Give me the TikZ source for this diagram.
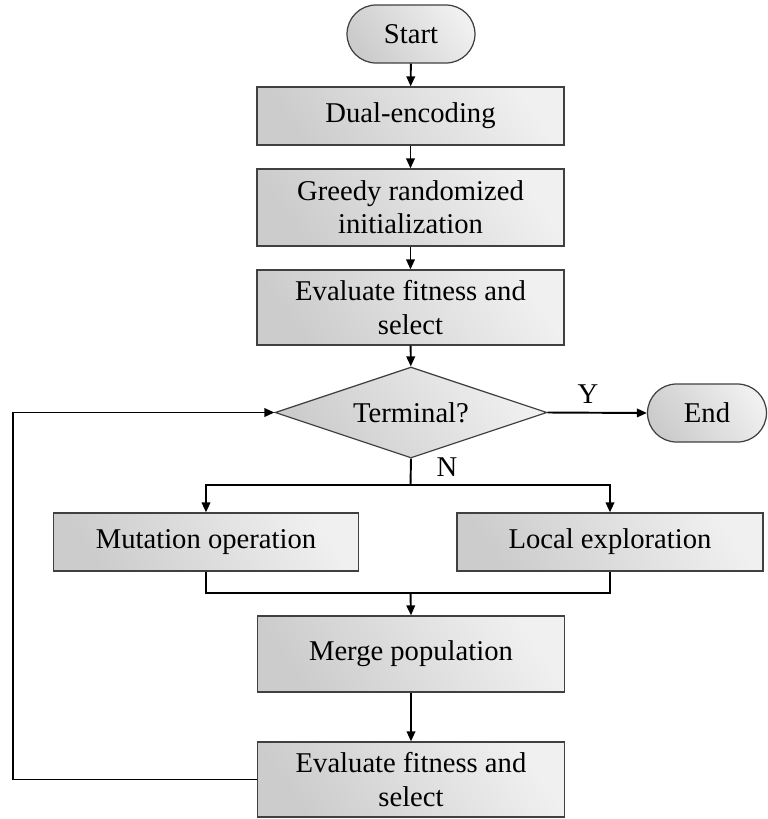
\documentclass[tikz,border=0pt]{standalone}
\usepackage{fontspec}
\setmainfont{Liberation Serif}
\usetikzlibrary{shapes.geometric,shapes.misc,arrows.meta}
\begin{document}
\begin{tikzpicture}
                            [x=0.02cm, y=-0.02cm,
                            font=\fontsize{16.3}{19}\selectfont,
                            caja/.style = {rectangle, draw=black!75, line width=0.7pt,
                                        left color=black!20, right color=black!6,
                                        shading angle=125,
                                        align=center, inner sep=0pt,
                                        minimum width=6.14cm, minimum height=1.16cm},
                            extremo/.style = {rounded rectangle, draw=black!75, line width=0.7pt,
                                        left color=black!20, right color=black!6,
                                        shading angle=125,
                                        inner sep=0pt, minimum height=1.16cm},
                            decision/.style = {diamond, aspect=3, draw=black!75, line width=0.7pt,
                                        left color=black!20, right color=black!6,
                                        shading angle=125,
                                        inner sep=0pt, minimum width=5.44cm, minimum height=1.82cm},
                            flecha/.style = {line width=1.1pt, -{Triangle[length=2mm,width=1.7mm]}},
                            linea/.style = {line width=1.1pt}]
                            \useasboundingbox (0,0) rectangle (768,819);
                            % Inicio y fin
                            \node[extremo, minimum width=2.56cm] (start) at (411,34) {Start};
                            \node[extremo, minimum width=2.38cm] (end) at (707,413) {End};
                            % Pasos iniciales
                            \node[caja] (dual) at (410.5,116) {Dual-encoding};
                            \node[caja, minimum height=1.54cm] (greedy) at (410.5,207.5) {Greedy randomized\\initialization};
                            \node[caja, minimum height=1.5cm] (eval1) at (410.5,307.5) {Evaluate fitness and\\select};
                            % Condicion de parada
                            \node[decision] (term) at (411,412.5) {Terminal?};
                            % Operadores
                            \node[caja, minimum width=6.1cm] (mut) at (206,542) {Mutation operation};
                            \node[caja, minimum width=6.12cm] (loc) at (610,542) {Local exploration};
                            \node[caja, minimum height=1.52cm] (merge) at (411,654) {Merge population};
                            \node[caja, minimum height=1.5cm] (eval2) at (411,779.5) {Evaluate fitness and\\select};
                            % Puntos auxiliares
                            \coordinate (split) at (410.5,485);
                            \coordinate (join) at (410.5,593);
                            \coordinate (loop) at (13,779.5);
                            % Conexiones
                            \draw[flecha] (start) -- (dual);
                            \draw[flecha] (dual) -- (greedy);
                            \draw[flecha] (greedy) -- (eval1);
                            \draw[flecha] (eval1) -- (term);
                            \draw[flecha] (term.east) -- (end.west);
                            \draw[linea] (term.south) -- (split);
                            \draw[flecha] (split) -| (mut.north);
                            \draw[flecha] (split) -| (loc.north);
                            \draw[linea] (mut.south) |- (join);
                            \draw[linea] (loc.south) |- (join);
                            \draw[flecha] (join) -- (merge.north);
                            \draw[flecha] (merge) -- (eval2);
                            \draw[flecha] (eval2.west) -- (loop) |- (term.west);
                            % Etiquetas
                            \node at (588,394) {Y};
                            \node at (447,467) {N};
                        \end{tikzpicture}
\end{document}
